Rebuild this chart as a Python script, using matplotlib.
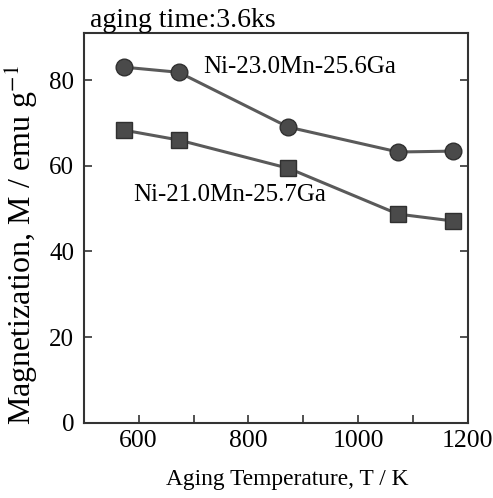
import matplotlib
matplotlib.use("Agg")
import matplotlib.pyplot as plt
from matplotlib.ticker import MultipleLocator

temps = [573, 673, 873, 1073, 1173]
m_23mn = [83.0, 81.8, 69.0, 63.2, 63.4]
m_21mn = [68.3, 66.0, 59.4, 48.7, 47.1]
label_23 = "Ni-23.0Mn-25.6Ga"
label_21 = "Ni-21.0Mn-25.7Ga"
x_ticks = [600, 800, 1000, 1200]
y_ticks = [0, 20, 40, 60, 80]

plt.rcParams['font.family'] = ['Liberation Serif', 'DejaVu Serif']
plt.rcParams['mathtext.fontset'] = 'stix'

fig = plt.figure(figsize=(4.93, 4.98), dpi=100)
ax = fig.add_axes([0.170, 0.151, 0.779, 0.783])

line_kw = dict(color='#5a5a5a', lw=2.2, markerfacecolor='#4a4a4a',
               markeredgecolor='#303030', markeredgewidth=1.0)
ax.plot(temps, m_23mn, marker='o', markersize=12, **line_kw)
ax.plot(temps, m_21mn, marker='s', markersize=12, **line_kw)

ax.set_xlim(500, 1200)
ax.set_ylim(0, 91)
ax.set_xticks(x_ticks)
ax.xaxis.set_minor_locator(MultipleLocator(100))
ax.set_yticks(y_ticks)

ax.tick_params(axis='both', which='both', direction='in', length=6, width=1.2,
               color='#333333')
ax.tick_params(axis='y', which='both', right=True, labelsize=18, pad=7)
ax.tick_params(axis='x', which='both', top=False, labelsize=18.5, pad=5)
for s in ax.spines.values():
    s.set_linewidth(1.5)
    s.set_color('#333333')

ax.set_xlabel("Aging Temperature, T / K", fontsize=16.8)
ax.xaxis.set_label_coords(0.53, -0.118)
ax.set_ylabel(r"Magnetization, M / emu g$^{-1}$", fontsize=23)
ax.yaxis.set_label_coords(-0.115, 0.455)

ax.text(0.015, 1.0, "aging time:3.6ks", transform=ax.transAxes,
        fontsize=20, ha='left', va='bottom')
ax.text(0.31, 0.913, label_23, transform=ax.transAxes, fontsize=18,
        ha='left', va='center')
ax.text(0.128, 0.585, label_21, transform=ax.transAxes, fontsize=18,
        ha='left', va='center')

fig.savefig("out.png", dpi=100)
